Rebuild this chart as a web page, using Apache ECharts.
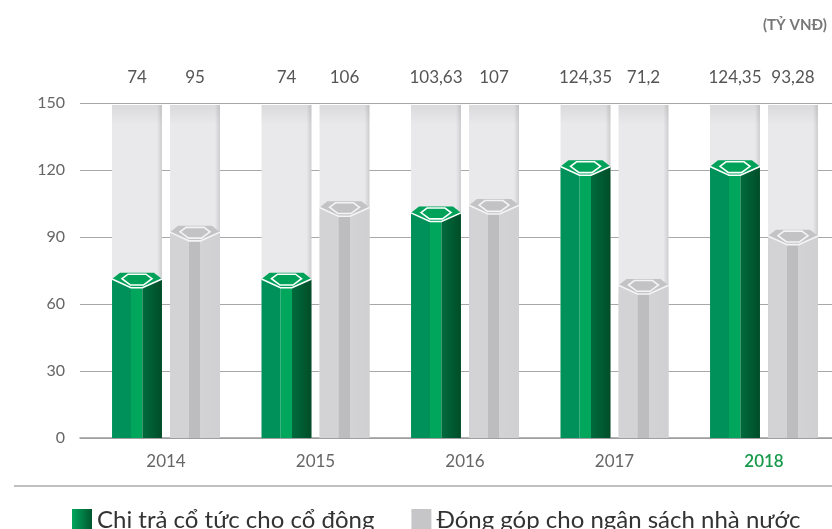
<!DOCTYPE html>
<html>
<head>
<meta charset="utf-8">
<script src="https://cdn.jsdelivr.net/npm/echarts@6/dist/echarts.min.js"></script>
<style>
  html, body { margin: 0; padding: 0; background: #fff; }
  #chart { width: 832px; height: 529px; }
</style>
</head>
<body>
<div id="chart"></div>
<script>
// du lieu (ty VND)
var years = ['2014', '2015', '2016', '2017', '2018'];
var dividends = [74, 74, 103.63, 124.35, 124.35];
var budget = [95, 106, 107, 71.2, 93.28];
var yMax = 150;
var yStep = 30;

var FONT = 'Lato, "Open Sans", sans-serif';

var palettes = {
    green: {
        left: '#00915a',
        mid: '#00a65c',
        right: ['#006b3d', '#004d28'],
        cap: '#00a25a',
        line: '#ffffff'
    },
    gray: {
        left: '#d3d3d5',
        mid: '#bdbdc0',
        right: ['#d3d3d5', '#d0d0d2'],
        cap: '#c3c3c6',
        line: '#f4f4f4'
    }
};

function fmt(v) {
    return String(v).replace('.', ',');
}

// ve mot cot hinh lang tru co mu kim cuong
function makeRender(pal, side) {
    return function (params, api) {
        var idx = api.value(0);
        var val = api.value(1);
        var band = api.coord([1, 0])[0] - api.coord([0, 0])[0];
        var w = band * 0.334;
        var off = band * 0.194 * side;
        var top = api.coord([idx, val]);
        var base = api.coord([idx, 0]);
        var full = api.coord([idx, yMax]);
        var cx = top[0] + off;
        var x0 = cx - w / 2;
        var y0 = top[1];
        var yb = base[1];
        var h = 15;
        var ys = y0 + h * 0.42;
        var ye = y0 + h;
        var a = x0 + w * 0.38, b = x0 + w * 0.61, x1 = x0 + w;

        return {
            type: 'group',
            children: [
                {
                    type: 'rect',
                    shape: { x: x0, y: full[1] + 2, width: w, height: yb - full[1] - 2 },
                    style: {
                        fill: new echarts.graphic.LinearGradient(0, 0, 0, 1, [
                            { offset: 0, color: '#dadadc' },
                            { offset: 0.06, color: '#e9e9eb' },
                            { offset: 1, color: '#e9e9eb' }
                        ])
                    }
                },
                {
                    type: 'rect',
                    shape: { x: x1 - 5, y: full[1] + 2, width: 5, height: yb - full[1] - 2 },
                    style: {
                        fill: new echarts.graphic.LinearGradient(0, 0, 1, 0, [
                            { offset: 0, color: 'rgba(0,0,0,0)' },
                            { offset: 1, color: 'rgba(0,0,0,0.12)' }
                        ])
                    }
                },
                {
                    type: 'polygon',
                    shape: { points: [[x0, ys], [a, ye], [a, yb], [x0, yb]] },
                    style: { fill: pal.left }
                },
                {
                    type: 'polygon',
                    shape: { points: [[a, ye], [b, ye], [b, yb], [a, yb]] },
                    style: { fill: pal.mid }
                },
                {
                    type: 'polygon',
                    shape: { points: [[b, ye], [x1, ys], [x1, yb], [b, yb]] },
                    style: {
                        fill: new echarts.graphic.LinearGradient(0, 0, 1, 0, [
                            { offset: 0, color: pal.right[0] },
                            { offset: 1, color: pal.right[1] }
                        ])
                    }
                },
                {
                    type: 'polygon',
                    shape: {
                        points: [[x0, ys], [x0 + w * 0.16, y0], [x0 + w * 0.84, y0], [x1, ys], [b, ye], [a, ye]]
                    },
                    style: { fill: pal.cap }
                },
                {
                    type: 'polyline',
                    shape: { points: [[x0, ys], [a, ye], [b, ye], [x1, ys]] },
                    style: { stroke: pal.line, lineWidth: 1.6, fill: null }
                },
                {
                    type: 'polygon',
                    shape: {
                        points: [
                            [x0 + w * 0.2, y0 + h * 0.4],
                            [x0 + w * 0.32, y0 + h * 0.1],
                            [x0 + w * 0.68, y0 + h * 0.1],
                            [x0 + w * 0.8, y0 + h * 0.4],
                            [x0 + w * 0.63, y0 + h * 0.82],
                            [x0 + w * 0.37, y0 + h * 0.82]
                        ]
                    },
                    style: { fill: pal.cap, stroke: pal.line, lineWidth: 1.6 }
                },
                {
                    type: 'text',
                    style: {
                        text: fmt(val),
                        x: cx,
                        y: full[1] - 25,
                        align: 'center',
                        verticalAlign: 'middle',
                        fill: '#555',
                        font: '17px ' + FONT
                    }
                }
            ]
        };
    };
}

var chart = echarts.init(document.getElementById('chart'));

var option = {
    animation: false,
    textStyle: { fontFamily: FONT },
    grid: [
        { left: 80, right: 0, top: 103, bottom: 91 },
        // tam cac cot: 2014 o x=166, 2018 o x=764
        { left: 166, right: 68, top: 103, bottom: 91 }
    ],
    xAxis: [
        {
            gridIndex: 0,
            type: 'category',
            data: [''],
            axisLine: { lineStyle: { color: '#9a9a9a', width: 1.5 } },
            axisTick: { show: false },
            axisLabel: { show: false }
        },
        {
            gridIndex: 1,
            type: 'category',
            data: years,
            boundaryGap: false,
            axisLine: { show: false },
            axisTick: { show: false },
            axisLabel: {
                margin: 15,
                fontSize: 17,
                color: '#666',
                formatter: function (v) {
                    return v === '2018' ? '{hl|' + v + '}' : v;
                },
                rich: {
                    hl: { fontSize: 17, color: '#16994a', fontWeight: 600 }
                }
            }
        }
    ],
    yAxis: [
        {
            gridIndex: 0,
            type: 'value',
            min: 0,
            max: yMax,
            interval: yStep,
            axisLine: { show: false },
            axisTick: { show: false },
            axisLabel: { margin: 15, fontSize: 16, color: '#666' },
            splitLine: { lineStyle: { color: '#a8a8a8', width: 1.2 } }
        },
        {
            gridIndex: 1,
            type: 'value',
            min: 0,
            max: yMax,
            show: false
        }
    ],
    legend: {
        left: 72,
        top: 508,
        padding: 0,
        itemWidth: 20,
        itemHeight: 22,
        itemGap: 37,
        icon: 'rect',
        selectedMode: false,
        textStyle: { fontSize: 24, color: '#333' },
        data: [
            {
                name: 'Chi trả cổ tức cho cổ đông',
                itemStyle: {
                    color: new echarts.graphic.LinearGradient(0, 0, 1, 0, [
                        { offset: 0, color: '#00a65c' },
                        { offset: 1, color: '#00582f' }
                    ])
                }
            },
            {
                name: 'Đóng góp cho ngân sách nhà nước',
                itemStyle: { color: '#c6c6c8' }
            }
        ]
    },
    graphic: [
        {
            type: 'line',
            shape: { x1: 14, y1: 486, x2: 832, y2: 486 },
            style: { stroke: '#aaa', lineWidth: 1.5 }
        },
        {
            type: 'text',
            left: 763,
            top: 18,
            style: {
                text: '(TỶ VNĐ)',
                fill: '#777',
                font: 'bold 15px ' + FONT
            }
        }
    ],
    series: [
        {
            name: 'Chi trả cổ tức cho cổ đông',
            type: 'custom',
            xAxisIndex: 1,
            yAxisIndex: 1,
            clip: false,
            itemStyle: { color: '#00a65c' },
            renderItem: makeRender(palettes.green, -1),
            data: dividends.map(function (v, i) { return [i, v]; })
        },
        {
            name: 'Đóng góp cho ngân sách nhà nước',
            type: 'custom',
            xAxisIndex: 1,
            yAxisIndex: 1,
            clip: false,
            itemStyle: { color: '#c6c6c8' },
            renderItem: makeRender(palettes.gray, 1),
            data: budget.map(function (v, i) { return [i, v]; })
        }
    ]
};

chart.setOption(option);
</script>
</body>
</html>
